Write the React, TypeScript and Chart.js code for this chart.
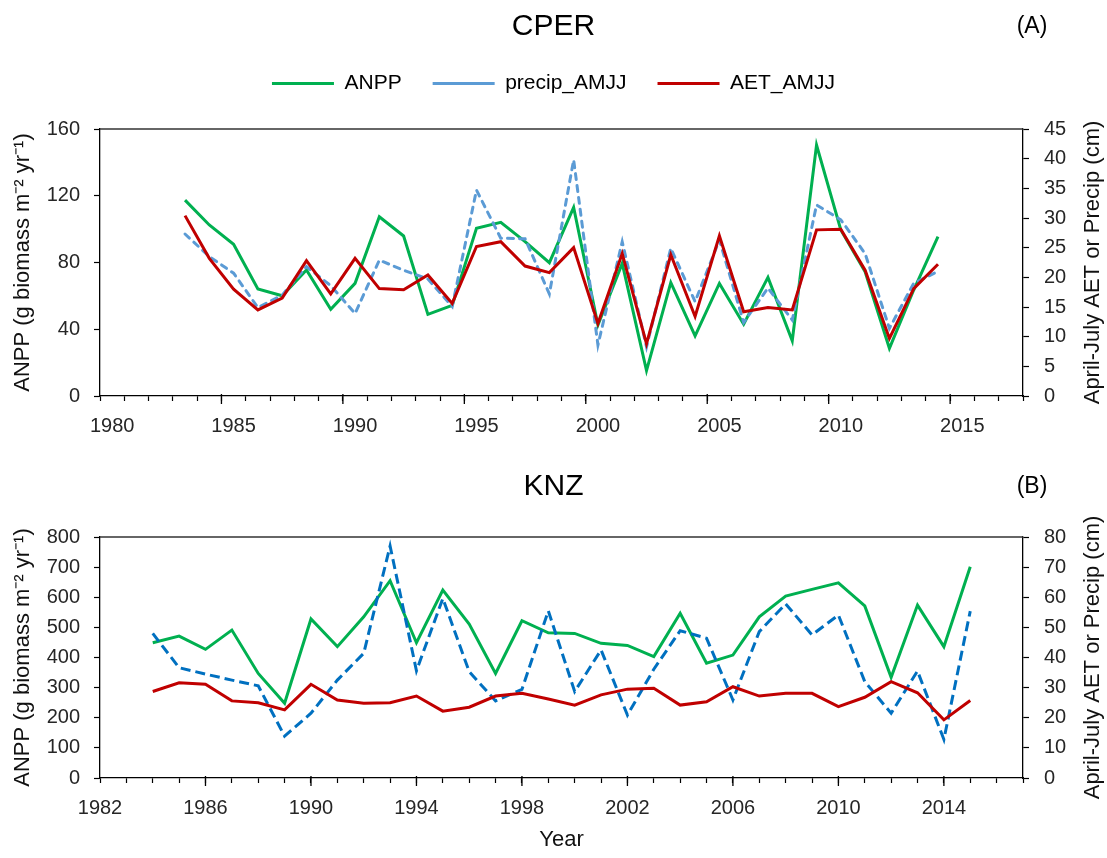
import React, { useEffect, useRef } from 'react';
import { Chart, registerables } from 'chart.js';

Chart.register(...registerables);

// ---------- CPER (panel A) ----------
const cperYears = [
  '1983', '1984', '1985', '1986', '1987', '1988', '1989', '1990', '1991', '1992', '1993', '1994', '1995', '1996', '1997', '1998',
  '1999', '2000', '2001', '2002', '2003', '2004', '2005', '2006', '2007', '2008', '2009', '2010', '2011', '2012', '2013', '2014',
];
const cperANPP = [
  117.4, 102.5, 90.9, 64.1, 60.1, 75.5, 51.9, 67.5, 107.4, 95.9, 48.9, 54.3, 100.5, 104.1, 92.5, 79.9,
  113.0, 42.5, 79.5, 15.2, 67.9, 36.0, 67.5, 43.0, 71.1, 33.1, 150.4, 99.5, 74.5, 28.6, 63.5, 95.5,
];
const cperPrecip = [
  27.3, 23.5, 20.7, 14.9, 17.0, 21.8, 18.6, 13.9, 22.9, 21.2, 19.7, 15.1, 34.7, 26.6, 26.5, 17.2,
  39.8, 8.6, 26.0, 8.3, 24.9, 15.9, 26.3, 12.4, 18.2, 12.8, 32.2, 29.7, 24.0, 11.4, 19.0, 21.0,
];
const cperAET = [
  30.4, 23.2, 18.0, 14.5, 16.5, 22.8, 17.2, 23.2, 18.1, 17.9, 20.4, 15.6, 25.2, 26.0, 21.9, 20.8,
  25.0, 12.2, 24.0, 8.8, 23.8, 13.4, 27.0, 14.2, 14.9, 14.5, 28.0, 28.1, 21.2, 9.7, 18.1, 22.2,
];
const cperAxisYears = [
  '1980', '1981', '1982', '1983', '1984', '1985', '1986', '1987', '1988', '1989', '1990', '1991', '1992',
  '1993', '1994', '1995', '1996', '1997', '1998', '1999', '2000', '2001', '2002', '2003', '2004', '2005',
  '2006', '2007', '2008', '2009', '2010', '2011', '2012', '2013', '2014', '2015', '2016', '2017',
];
const cperLabelYears = ['1980', '1985', '1990', '1995', '2000', '2005', '2010', '2015'];

// ---------- KNZ (panel B) ----------
const knzYears = [
  1984, 1985, 1986, 1987, 1988, 1989, 1990, 1991, 1992, 1993, 1994, 1995, 1996, 1997, 1998, 1999,
  2000, 2001, 2002, 2003, 2004, 2005, 2006, 2007, 2008, 2009, 2010, 2011, 2012, 2013, 2014, 2015,
];
const knzANPP = [
  449, 471, 427, 491, 347, 248, 528, 436, 535, 655, 449, 624, 511, 347, 522, 482,
  480, 447, 440, 403, 547, 381, 408, 535, 604, 626, 648, 571, 334, 574, 436, 701,
];
const knzPrecip = [
  48.0, 36.6, 34.5, 32.5, 30.6, 13.9, 21.5, 32.5, 41.4, 77.0, 35.6, 59.6, 35.3, 25.6, 29.4, 55.5,
  28.7, 42.5, 20.9, 36.1, 48.9, 46.4, 25.9, 48.6, 57.8, 47.5, 54.1, 32.0, 21.5, 35.5, 12.8, 55.4,
];
const knzAET = [
  28.7, 31.6, 31.1, 25.6, 25.0, 22.6, 31.1, 25.9, 24.8, 25.0, 27.2, 22.2, 23.5, 27.2, 28.1, 26.2,
  24.2, 27.6, 29.5, 29.8, 24.2, 25.3, 30.3, 27.2, 28.1, 28.1, 23.7, 26.8, 32.0, 28.3, 19.3, 25.7,
];
const knzTickYears = [
  1982, 1983, 1984, 1985, 1986, 1987, 1988, 1989, 1990, 1991, 1992, 1993, 1994, 1995, 1996, 1997, 1998,
  1999, 2000, 2001, 2002, 2003, 2004, 2005, 2006, 2007, 2008, 2009, 2010, 2011, 2012, 2013, 2014, 2015, 2016, 2017,
];
const knzLabelYears = [1982, 1986, 1990, 1994, 1998, 2002, 2006, 2010, 2014];

const FONT = "'Liberation Sans', Arial, sans-serif";
const GREEN = '#00B050';
const RED = '#C00000';
const LIGHT_BLUE = '#5B9BD5';
const DARK_BLUE = '#0070C0';
const TICK_COLOR = '#262626';

const leftTitle = 'ANPP (g biomass m\u207B\u00B2 yr\u207B\u00B9)';
const rightTitle = 'April-July AET or Precip (cm)';

function frameAndTag(tag: string, tagY: number, majorXs: (chart: any) => number[]) {
  return {
    id: 'frameAndTag',
    afterDraw(chart: any) {
      const { ctx, chartArea } = chart;
      ctx.save();
      ctx.strokeStyle = '#333';
      ctx.lineWidth = 1.3;
      ctx.beginPath();
      ctx.moveTo(chartArea.left, chartArea.top);
      ctx.lineTo(chartArea.right, chartArea.top);
      ctx.stroke();
      // longer major tick marks on the x axis
      ctx.strokeStyle = '#000';
      ctx.lineWidth = 1.3;
      ctx.beginPath();
      for (const px of majorXs(chart)) {
        ctx.moveTo(px, chartArea.bottom - 2);
        ctx.lineTo(px, chartArea.bottom + 8);
      }
      ctx.stroke();
      ctx.fillStyle = '#000';
      ctx.font = `23px ${FONT}`;
      ctx.textAlign = 'center';
      ctx.textBaseline = 'middle';
      ctx.fillText(tag, chart.width - 75, tagY);
      // right axis title, reading bottom-to-top
      ctx.fillStyle = '#111';
      ctx.font = `22px ${FONT}`;
      ctx.translate(chart.width - 14, (chartArea.top + chartArea.bottom) / 2);
      ctx.rotate(-Math.PI / 2);
      ctx.fillText(rightTitle, 0, 0);
      ctx.restore();
    },
  };
}

const legendSpacer = {
  id: 'legendSpacer',
  beforeInit(chart: any) {
    const orig = chart.legend.fit;
    chart.legend.fit = function fit() {
      orig.call(this);
      this.height += 25;
    };
  },
};

function yScales(leftMax: number, leftStep: number, rightMax: number, rightStep: number) {
  const common = {
    grid: { drawOnChartArea: false, color: '#000', tickLength: 6, tickWidth: 1.2 },
    border: { color: '#000', width: 1.3 },
  };
  return {
    y: {
      type: 'linear',
      position: 'left',
      min: 0,
      max: leftMax,
      ...common,
      ticks: { stepSize: leftStep, color: TICK_COLOR, font: { size: 20, family: FONT }, padding: 14 },
      title: { display: true, text: leftTitle, color: '#111', font: { size: 22, family: FONT }, padding: { top: 10 } },
      afterFit: (s: any) => { s.width = 100; },
    },
    y1: {
      type: 'linear',
      position: 'right',
      min: 0,
      max: rightMax,
      ...common,
      ticks: { stepSize: rightStep, color: TICK_COLOR, font: { size: 20, family: FONT }, padding: 15 },
      title: { display: false },
      afterFit: (s: any) => { s.width = 84; },
    },
  };
}

export default function App() {
  const topRef = useRef<HTMLCanvasElement>(null);
  const botRef = useRef<HTMLCanvasElement>(null);

  useEffect(() => {
    document.body.style.margin = '0';
    Chart.defaults.font.family = FONT;

    const line = (label: string, xs: any[], ys: number[], color: string, axis: string, order: number, dash?: number[], cap?: string) => ({
      label,
      data: xs.map((x, i) => ({ x, y: ys[i] })),
      borderColor: color,
      backgroundColor: color,
      borderWidth: 3,
      borderDash: dash || [],
      borderCapStyle: cap || 'butt',
      pointRadius: 0,
      tension: 0,
      yAxisID: axis,
      order,
      fill: false,
    });

    const cperMajors = (chart: any) => {
      const s = chart.scales.x;
      return cperLabelYears
        .map((y) => cperAxisYears.indexOf(y))
        .filter((i) => i > 0)
        .map((i) => (s.getPixelForValue(i) + s.getPixelForValue(i - 1)) / 2);
    };
    const knzMajors = (chart: any) => {
      const s = chart.scales.x;
      return knzLabelYears.filter((y) => y > 1982).map((y) => s.getPixelForValue(y));
    };

    const c1 = new Chart(topRef.current as HTMLCanvasElement, {
      type: 'line',
      data: {
        labels: cperAxisYears,
        datasets: [
          line('ANPP', cperYears, cperANPP, GREEN, 'y', 3),
          line('precip_AMJJ', cperYears, cperPrecip, LIGHT_BLUE, 'y1', 2, [6, 6], 'round'),
          line('AET_AMJJ', cperYears, cperAET, RED, 'y1', 1),
        ],
      } as any,
      options: {
        responsive: false,
        animation: false,
        events: [],
        layout: { padding: 0 },
        plugins: {
          tooltip: { enabled: false },
          title: {
            display: true,
            text: 'CPER',
            color: '#000',
            font: { size: 30, weight: 'normal', lineHeight: 1, family: FONT },
            padding: { top: 12, bottom: 0 },
          },
          legend: {
            display: true,
            position: 'top',
            labels: {
              usePointStyle: true,
              pointStyle: 'line',
              pointStyleWidth: 62,
              color: '#000',
              font: { size: 21, family: FONT },
              padding: 31,
              sort: (a: any, b: any) => a.datasetIndex - b.datasetIndex,
            },
          },
        },
        scales: {
          x: {
            type: 'category',
            offset: true,
            grid: { offset: true, drawOnChartArea: false, color: '#000', tickLength: 5, tickWidth: 1.2 },
            border: { color: '#000', width: 1.3 },
            ticks: {
              autoSkip: false,
              maxRotation: 0,
              minRotation: 0,
              padding: 13,
              color: TICK_COLOR,
              font: { size: 20, family: FONT },
              callback: (_v: any, i: number) => (cperLabelYears.includes(cperAxisYears[i]) ? cperAxisYears[i] : ''),
            },
            afterFit: (s: any) => { s.height = 44; },
          },
          ...yScales(160, 40, 45, 5),
        },
      } as any,
      plugins: [legendSpacer, frameAndTag('(A)', 27, cperMajors)],
    });

    const c2 = new Chart(botRef.current as HTMLCanvasElement, {
      type: 'line',
      data: {
        datasets: [
          line('ANPP', knzYears, knzANPP, GREEN, 'y', 3),
          line('precip_AMJJ', knzYears, knzPrecip, DARK_BLUE, 'y1', 2, [10, 5]),
          line('AET_AMJJ', knzYears, knzAET, RED, 'y1', 1),
        ],
      } as any,
      options: {
        responsive: false,
        animation: false,
        events: [],
        layout: { padding: 0 },
        plugins: {
          tooltip: { enabled: false },
          legend: { display: false },
          title: {
            display: true,
            text: 'KNZ',
            color: '#000',
            font: { size: 30, weight: 'normal', lineHeight: 1, family: FONT },
            padding: { top: 32, bottom: 35 },
          },
        },
        scales: {
          x: {
            type: 'linear',
            min: 1982,
            max: 2017,
            grid: { drawOnChartArea: false, color: '#000', tickLength: 5, tickWidth: 1.2 },
            border: { color: '#000', width: 1.3 },
            afterBuildTicks: (s: any) => { s.ticks = knzTickYears.map((v) => ({ value: v })); },
            ticks: {
              autoSkip: false,
              maxRotation: 0,
              minRotation: 0,
              padding: 13,
              color: TICK_COLOR,
              font: { size: 20, family: FONT },
              callback: (v: any) => (knzLabelYears.includes(Number(v)) ? String(v) : ''),
            },
            title: { display: true, text: 'Year', color: '#111', font: { size: 22, family: FONT }, padding: { top: 0, bottom: 5 } },
            afterFit: (s: any) => { s.height = 80; },
          },
          ...yScales(800, 100, 80, 10),
        },
      } as any,
      plugins: [frameAndTag('(B)', 47, knzMajors)],
    });

    return () => {
      c1.destroy();
      c2.destroy();
    };
  }, []);

  return (
    <div style={{ position: 'relative', width: 1107, height: 858, background: '#fff' }}>
      <canvas ref={topRef} width={1107} height={440} style={{ position: 'absolute', left: 0, top: 0 }} />
      <canvas ref={botRef} width={1107} height={418} style={{ position: 'absolute', left: 0, top: 440 }} />
    </div>
  );
}
